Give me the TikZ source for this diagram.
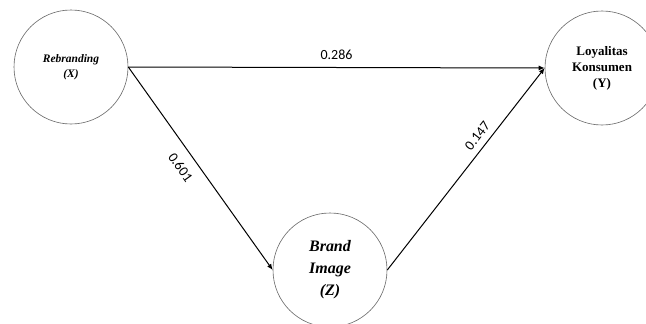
\documentclass[tikz,border=0pt]{standalone}
\usepackage{fontspec}
\setmainfont{Liberation Serif}
\newfontfamily\lblfont{Carlito}
\usetikzlibrary{arrows.meta}
\begin{document}
\begin{tikzpicture}[x=1pt,y=-1pt,
  var/.style={circle,draw=black!60,line width=0.6pt,minimum size=114pt,inner sep=0pt,align=center},
  conn/.style={line width=1pt,-{Latex[length=6pt,width=5pt]}},
  lbl/.style={font=\lblfont\fontsize{14}{14}\selectfont}]
\useasboundingbox (0,0) rectangle (646,324);
\node[var,font=\fontsize{11.5}{15}\selectfont\bfseries\itshape] (x) at (71,67) {Rebranding\\(X)};
\node[var,font=\fontsize{13}{16}\selectfont\bfseries] (y) at (602,68) {Loyalitas\\Konsumen\\(Y)};
\node[var,font=\fontsize{16}{22}\selectfont\bfseries\itshape] (z) at (330,270) {Brand\\Image\\(Z)};
\draw[conn] (x.east) -- (y.west) node[lbl,midway,above=4pt] {0.286};
\draw[conn] (x.east) -- (z.west) node[lbl,pos=0.45,sloped,below=7pt] {0.601};
\draw[conn] (z.east) -- (y.west) node[lbl,pos=0.63,sloped,above=3pt] {0.147};
\end{tikzpicture}
\end{document}
